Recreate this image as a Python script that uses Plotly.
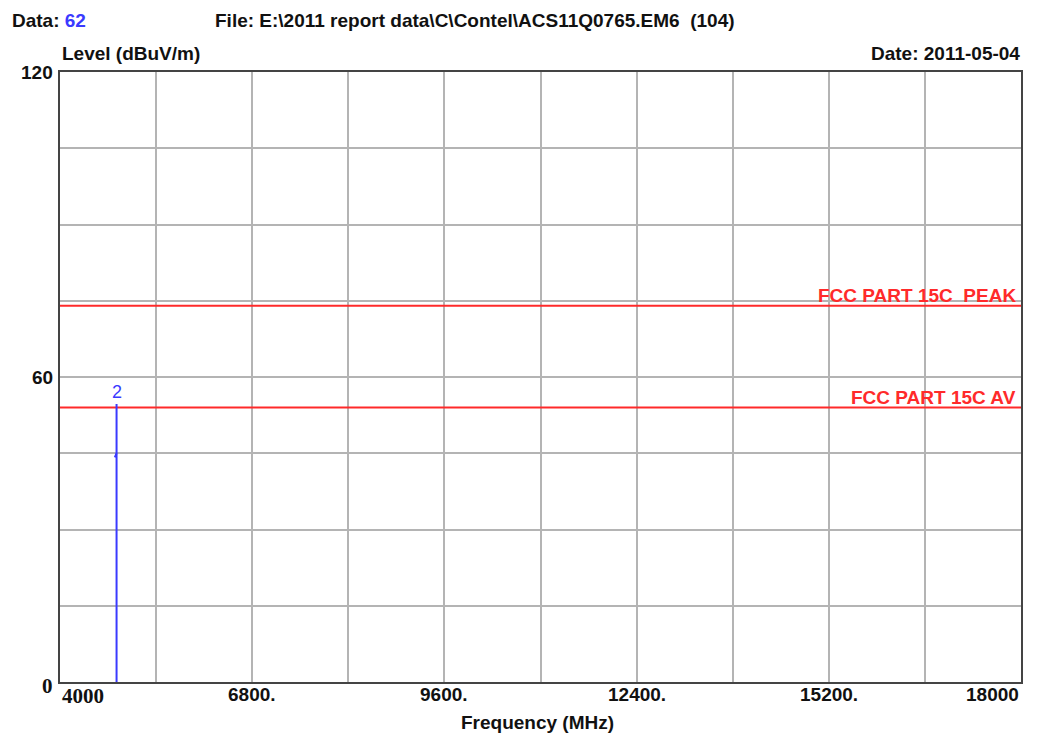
import plotly.graph_objects as go

# axis ranges / ticks
x_ticks = [4000, 6800, 9600, 12400, 15200, 18000]
x_tick_text = ["4000", "6800.", "9600.", "12400.", "15200.", "18000"]
y_ticks = [0, 60, 120]
y_tick_text = ["0", "60", "120"]

# limit lines (dBuV/m)
limit_names = ["FCC PART 15C  PEAK", "FCC PART 15C AV"]
limit_levels = [74, 54]

# measured emission
peak_freq = 4824
peak_level = 54.7
avg_level = 44.6
marker_label = "2"

SANS = "Liberation Sans"
SERIF = "Liberation Serif"
BLUE = "#3a3aff"
RED = "#ff2a2a"
GRID = "#b4b4b4"
FS = 19

fig = go.Figure()

for name, lvl in zip(limit_names, limit_levels):
    fig.add_trace(go.Scatter(x=[4000, 18000], y=[lvl, lvl], mode="lines",
                             line=dict(color=RED, width=2), hoverinfo="skip"))
    fig.add_annotation(x=18000, y=lvl, xref="x", yref="y", text="<b>%s</b>" % name,
                       showarrow=False, xanchor="right", yanchor="bottom", xshift=-3, yshift=-2,
                       font=dict(family=SANS, size=FS, color=RED))

fig.add_trace(go.Scatter(x=[peak_freq, peak_freq], y=[0, peak_level], mode="lines",
                         line=dict(color=BLUE, width=2), hoverinfo="skip"))
fig.add_trace(go.Scatter(x=[peak_freq - 25, peak_freq], y=[avg_level - 0.4, avg_level + 0.4], mode="lines",
                         line=dict(color=BLUE, width=2), hoverinfo="skip"))
fig.add_annotation(x=peak_freq, y=peak_level, xref="x", yref="y", text=marker_label,
                   showarrow=False, yanchor="bottom", yshift=0,
                   font=dict(family=SANS, size=18, color=BLUE))

# tick labels
for v, t in zip(x_ticks, x_tick_text):
    anchor = "left" if v == x_ticks[0] else ("right" if v == x_ticks[-1] else "center")
    fam = SERIF if v == x_ticks[0] else SANS
    fig.add_annotation(x=v, y=0, xref="x", yref="paper", text="<b>%s</b>" % t, showarrow=False,
                       xanchor=anchor, yanchor="top", yshift=0,
                       font=dict(family=fam, size=21 if fam == SERIF else FS, color="#111"))
for v, t in zip(y_ticks, y_tick_text):
    fam = SERIF if v == 0 else SANS
    fig.add_annotation(x=0, y=v, xref="paper", yref="y", text="<b>%s</b>" % t, showarrow=False,
                       xanchor="right", yanchor="middle", xshift=-5, yshift=-4 if v == 0 else 0,
                       font=dict(family=fam, size=21 if fam == SERIF else FS, color="#111"))

# header texts
hdr = dict(family=SANS, size=FS, color="#111")
fig.add_annotation(x=0, y=1, xref="paper", yref="paper", xshift=-50, yshift=52, xanchor="left", yanchor="middle",
                   text="<b>Data: <span style='color:%s'>62</span></b>" % BLUE, showarrow=False, font=hdr)
fig.add_annotation(x=0, y=1, xref="paper", yref="paper", xshift=153, yshift=52, xanchor="left", yanchor="middle",
                   text="<b>File: E:\\2011 report data\\C\\Contel\\ACS11Q0765.EM6  (104)</b>",
                   showarrow=False, font=hdr)
fig.add_annotation(x=0, y=1, xref="paper", yref="paper", yshift=19, xanchor="left", yanchor="middle",
                   text="<b>Level (dBuV/m)</b>", showarrow=False, font=hdr)
fig.add_annotation(x=1, y=1, xref="paper", yref="paper", xshift=1, yshift=19, xanchor="right", yanchor="middle",
                   text="<b>Date: 2011-05-04</b>", showarrow=False, font=hdr)
fig.add_annotation(x=0.497, y=0, xref="paper", yref="paper", yshift=-40, xanchor="center", yanchor="middle",
                   text="<b>Frequency (MHz)</b>", showarrow=False, font=hdr)

fig.update_xaxes(range=[4000, 18000], tickvals=x_ticks, showticklabels=False, ticks="",
                 showgrid=True, gridcolor=GRID, gridwidth=2,
                 minor=dict(dtick=1400, tick0=4000, showgrid=True, gridcolor=GRID, gridwidth=2),
                 showline=True, linecolor="#444", linewidth=2, mirror=True, zeroline=False)
fig.update_yaxes(range=[0, 120], tickvals=y_ticks, showticklabels=False, ticks="",
                 showgrid=True, gridcolor=GRID, gridwidth=2,
                 minor=dict(dtick=15, tick0=0, showgrid=True, gridcolor=GRID, gridwidth=2),
                 showline=True, linecolor="#444", linewidth=2, mirror=True, zeroline=False)

# page body adds an 8px offset, so margins are shifted to line up the plot box
fig.update_layout(width=1040, height=733, showlegend=False,
                  margin=dict(l=52, r=27, t=64, b=59),
                  paper_bgcolor="white", plot_bgcolor="white")

fig.write_html("out.html")
